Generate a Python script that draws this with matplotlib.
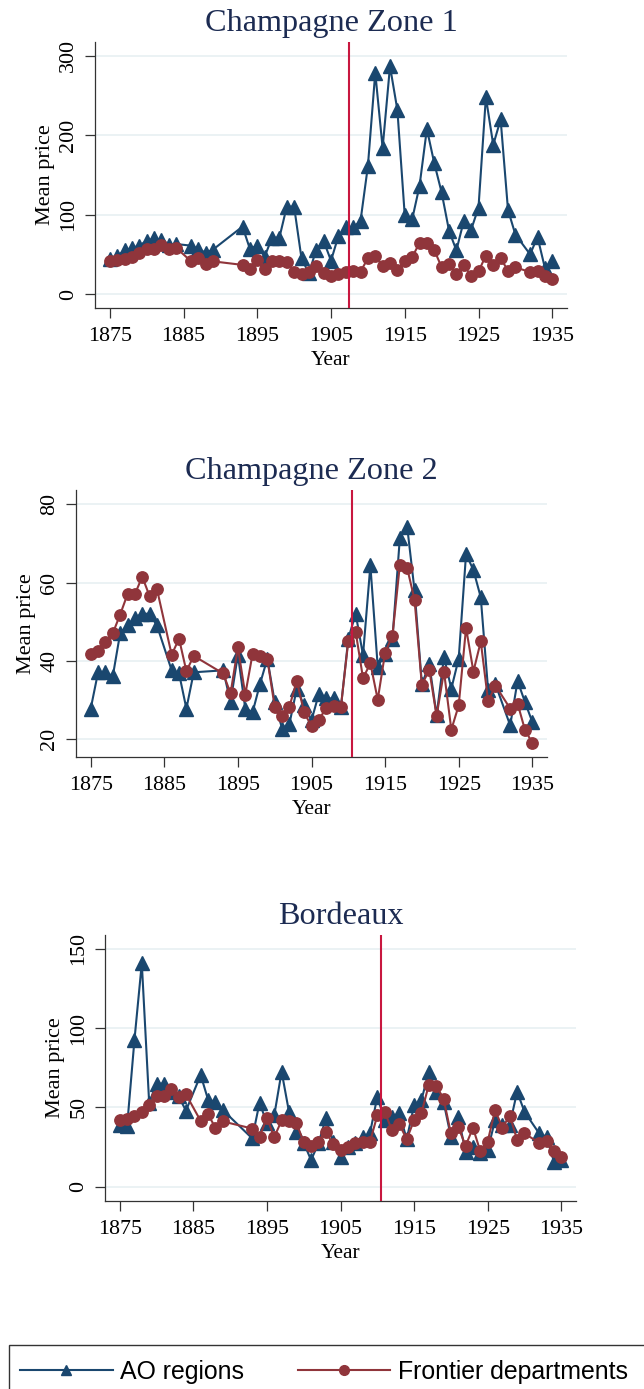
import matplotlib
matplotlib.use("Agg")
import matplotlib.pyplot as plt
from matplotlib.lines import Line2D
from matplotlib.patches import Rectangle

# ---------------- data ----------------
years = (list(range(1875, 1885)) + list(range(1886, 1890)) +
         list(range(1893, 1931)) + list(range(1932, 1936)))

frontier = [41.8, 42.5, 44.7, 47.0, 51.8, 57.0, 57.0, 61.5, 56.5, 58.3,
            41.5, 45.6, 37.3, 41.2,
            36.7, 31.6, 43.4, 31.3, 41.8, 41.2, 40.4, 28.1, 25.7, 28.2,
            34.8, 26.7, 23.2, 24.8, 27.9, 28.4, 28.2, 45.0, 47.4, 35.5,
            39.3, 30.0, 42.0, 46.4, 64.4, 63.7, 55.6, 33.7, 37.7, 25.8,
            37.2, 22.3, 28.5, 48.4, 37.2, 44.9, 29.6, 33.6,
            27.7, 29.0, 22.3, 18.9]

ao_zone1 = [44, 48, 55, 58, 61, 67, 70, 68, 62, 63,
            61, 57, 52, 56,
            85, 57, 61, 47, 71, 71, 110, 110, 45, 26,
            56, 67, 42, 73, 84, 84, 92, 161, 279, 184,
            287, 232, 99, 94, 136, 208, 165, 128, 80, 55,
            92, 81, 109, 248, 188, 220, 106, 75,
            50, 72, 33, 42]

ao_zone2 = [27.7, 37, 37, 36, 47, 49, 51, 52, 52, 49,
            37.5, 36.7, 27.7, 37,
            37.5, 29.4, 41.5, 27.7, 26.8, 34, 40.5, 29.4, 22.6, 23.8,
            32.8, 28.5, 24.7, 31.5, 30.3, 30.3, 28.1, 45.6, 52, 41.4,
            64.4, 38.4, 41.8, 45.6, 71.3, 74.3, 58, 33.9, 39.1, 26,
            40.9, 32.8, 40.5, 67.3, 63.2, 56.2, 32.4, 33.9,
            23.4, 34.8, 29.4, 24.3]

ao_bordeaux = [39, 38, 92.5, 141, 53, 65, 65, 60, 57, 48,
               70.5, 55, 53.6, 48.4,
               30.5, 53, 40, 45, 72.6, 47.3, 34.7, 27.8, 16.8, 27.3,
               43.1, 28.4, 19, 25, 27.3, 31.5, 33.6, 56.8, 42, 44,
               46.3, 30, 51.5, 54.7, 72.6, 60, 53.6, 31.5, 44, 22,
               25.2, 21, 23, 42, 39, 39, 60, 47.3,
               33.6, 31.5, 15.8, 16.8]

titles = ["Champagne Zone 1", "Champagne Zone 2", "Bordeaux"]
cutoffs = [1907.5, 1910.5, 1910.5]
yticks = [[0, 100, 200, 300], [20, 40, 60, 80], [0, 50, 100, 150]]
ylims = [(-17.6, 317.6), (15.3, 83.7), (-9.0, 158.8)]
xticks = [1875, 1885, 1895, 1905, 1915, 1925, 1935]
series_ao = [ao_zone1, ao_zone2, ao_bordeaux]
legend_labels = ["AO regions", "Frontier departments"]

# ---------------- style ----------------
W, H = 644, 1389
BLUE = "#1a476f"
RED = "#90353b"
VLINE = "#c8173f"
TITLE_C = "#1c2b52"
GRID_C = "#e9f1f3"
SERIF = ["Liberation Serif", "DejaVu Serif"]

fig = plt.figure(figsize=(W / 100, H / 100), dpi=100)
fig.patch.set_facecolor("white")

# axes rectangles in pixels (left, top, right, bottom)
rects = [(95, 42, 567, 308), (76, 490, 547, 757), (105, 935, 576, 1201)]


def px_rect(l, t, r, b):
    return [l / W, 1 - b / H, (r - l) / W, (b - t) / H]


for i, (l, t, r, b) in enumerate(rects):
    ax = fig.add_axes(px_rect(l, t, r, b))
    ax.plot(years, series_ao[i], color=BLUE, lw=1.5, marker="^", ms=9.5,
            mec=BLUE, mfc=BLUE, zorder=3)
    ax.plot(years, frontier, color=RED, lw=1.5, marker="o", ms=8.2,
            mec=RED, mfc=RED, zorder=4)
    ax.axvline(cutoffs[i], color=VLINE, lw=1.5, zorder=5)
    ax.set_xlim(1873, 1937)
    ax.set_ylim(*ylims[i])
    ax.set_xticks(xticks)
    ax.set_yticks(yticks[i])
    ax.grid(axis="y", color=GRID_C, lw=1.3, zorder=0)
    ax.set_axisbelow(True)
    for s in ["top", "right"]:
        ax.spines[s].set_visible(False)
    for s in ["left", "bottom"]:
        ax.spines[s].set_color("#333333")
        ax.spines[s].set_linewidth(0.9)
    ax.tick_params(axis="both", direction="out", length=7, width=0.9,
                   color="#333333")
    ax.tick_params(axis="x", pad=7)
    ax.tick_params(axis="y", pad=5)
    for lab in ax.get_xticklabels():
        lab.set_fontfamily(SERIF)
        lab.set_fontsize(15.8)
    for lab in ax.get_yticklabels():
        lab.set_fontfamily(SERIF)
        lab.set_fontsize(15.8)
        lab.set_rotation(90)
        lab.set_va("center")
    ax.set_xlabel("Year", fontfamily=SERIF, fontsize=15.5, labelpad=3)
    ax.set_ylabel("Mean price", fontfamily=SERIF, fontsize=16, labelpad=3)
    ax.set_title(titles[i], fontfamily=SERIF, fontsize=23.2, color=TITLE_C,
                 pad=8)

# ---------------- legend ----------------
fig.patches.append(Rectangle((9 / W, 1 - 1420 / H), 700 / W, 75 / H,
                             transform=fig.transFigure, fill=False,
                             edgecolor="#333333", lw=1.0))
handles = [Line2D([], [], color=BLUE, lw=1.5, marker="^", ms=7),
           Line2D([], [], color=RED, lw=1.5, marker="o", ms=7)]
fig.legend(handles, legend_labels, loc="center left",
           bbox_to_anchor=(20 / W, 1 - 1372 / H), ncol=2, frameon=False,
           prop={"family": ["Liberation Sans", "DejaVu Sans"], "size": 17.9},
           handlelength=3.73, handletextpad=0.3, columnspacing=2.15,
           borderpad=0, borderaxespad=0)

fig.savefig("out.png", dpi=100, facecolor="white")
